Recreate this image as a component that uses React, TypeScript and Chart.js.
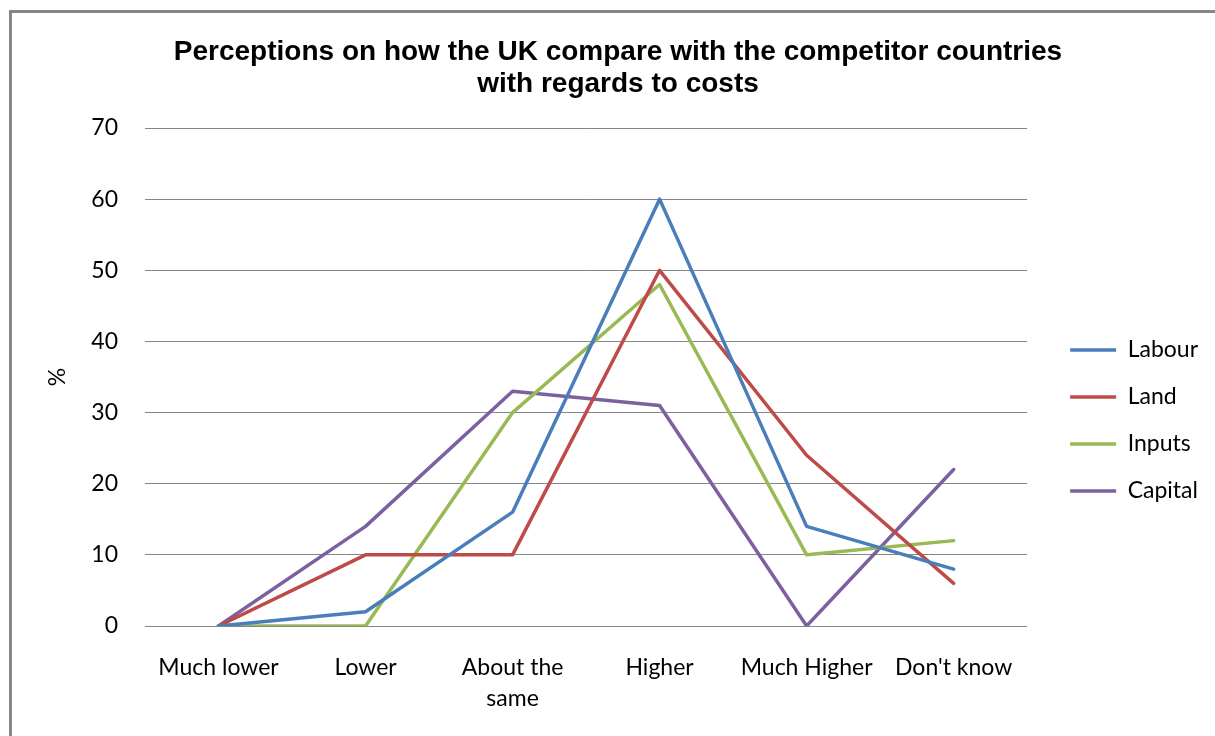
import React, { useEffect, useRef } from 'react';
import { Chart, registerables } from 'chart.js';

Chart.register(...registerables);

const titleLines = ['Perceptions on how the UK compare with the competitor countries', 'with regards to costs'];
const categories: string[][] = [['Much lower'], ['Lower'], ['About the', 'same'], ['Higher'], ['Much Higher'], ["Don't know"]];
const labour = [0, 2, 16, 60, 14, 8];
const land = [0, 10, 10, 50, 24, 6];
const inputs = [0, 0, 30, 48, 10, 12];
const capital = [0, 14, 33, 31, 0, 22];
const yMin = 0;
const yMax = 70;
const yStep = 10;
const yTitle = '%';

const seriesNames = ['Labour', 'Land', 'Inputs', 'Capital'];
const seriesColors = ['#4A7EBB', '#BE4B48', '#98B954', '#7D60A0'];

const W = 1203;
const H = 723;
const tickFont = { family: 'Lato', size: 23, lineHeight: 1.34 };

export default function App() {
  const ref = useRef<HTMLCanvasElement | null>(null);
  useEffect(() => {
    if (!ref.current) return;
    const values = [labour, land, inputs, capital];
    const chart = new Chart(ref.current, {
      type: 'line',
      data: {
        labels: categories,
        datasets: seriesNames.map((name, i) => ({
          label: name,
          data: values[i],
          borderColor: seriesColors[i],
          backgroundColor: seriesColors[i],
          borderWidth: 3.5,
          pointRadius: 0,
          pointHoverRadius: 0,
          tension: 0,
          fill: false,
          borderCapStyle: 'round' as const,
          borderJoinStyle: 'round' as const,
        })),
      },
      options: {
        responsive: false,
        animation: false,
        devicePixelRatio: 1,
        layout: { padding: { left: 16, right: 7, top: 0, bottom: 0 } },
        plugins: {
          tooltip: { enabled: false },
          title: {
            display: true,
            text: titleLines,
            color: '#000000',
            font: { family: 'Liberation Sans', size: 28, weight: 'bold', lineHeight: 1.143 },
            padding: { top: 23, bottom: 28 },
          },
          legend: {
            display: true,
            position: 'right',
            title: { display: true, text: ' ', font: { size: 10, lineHeight: 1 }, padding: { top: 82, bottom: 0 } },
            labels: {
              usePointStyle: true,
              pointStyle: 'line',
              pointStyleWidth: 46,
              boxHeight: 23,
              padding: 24,
              color: '#000000',
              font: { family: 'Lato', size: 23 },
            },
          },
        },
        scales: {
          x: {
            type: 'category',
            offset: true,
            grid: { display: false, drawTicks: false },
            border: { display: false },
            ticks: {
              color: '#000000',
              font: tickFont,
              padding: 26,
              maxRotation: 0,
              minRotation: 0,
              autoSkip: false,
            },
            afterFit: (s: any) => { s.height = 110; },
          },
          y: {
            type: 'linear',
            position: 'left',
            min: yMin,
            max: yMax,
            ticks: { stepSize: yStep, color: '#000000', font: { family: 'Lato', size: 23 }, padding: 27 },
            grid: { color: '#868686', lineWidth: 1, drawTicks: false },
            border: { display: false },
            title: {
              display: true,
              text: yTitle,
              color: '#000000',
              font: { family: 'Lato', size: 23, lineHeight: 1.2 },
              padding: { top: 16, bottom: 0 },
            },
            afterFit: (s: any) => { s.width = 117; },
          },
          y2: {
            type: 'linear',
            position: 'right',
            display: true,
            grid: { display: false, drawTicks: false },
            border: { display: false },
            ticks: { display: false },
            afterFit: (s: any) => { s.width = 19; },
          },
        },
      },
    });
    return () => chart.destroy();
  }, []);

  return (
    <div style={{ position: 'fixed', left: 0, top: 0, width: 1215, height: 736, overflow: 'hidden', background: '#ffffff' }}>
      <div
        style={{
          position: 'absolute',
          left: 9,
          top: 10,
          width: 1220,
          height: 740,
          border: '3px solid #878787',
          boxSizing: 'border-box',
        }}
      />
      <canvas ref={ref} width={W} height={H} style={{ position: 'absolute', left: 12, top: 13, width: W, height: H }} />
    </div>
  );
}
